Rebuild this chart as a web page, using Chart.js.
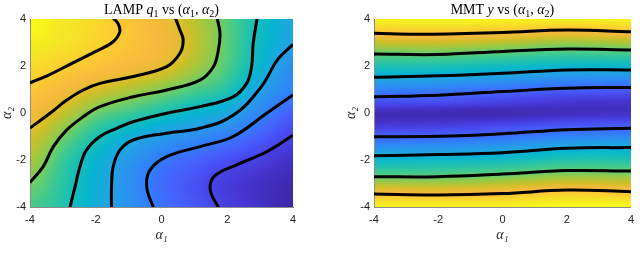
<!DOCTYPE html>
<html>
<head>
<meta charset="utf-8">
<script src="https://cdn.jsdelivr.net/npm/chart.js@4.4.0/dist/chart.umd.min.js"></script>
<style>
  html, body { margin: 0; padding: 0; background: #fff; }
  #wrap { position: relative; width: 640px; height: 262px; }
  .panel { position: absolute; top: 0; width: 320px; height: 262px; }
</style>
</head>
<body>
<div id="wrap">
  <div class="panel" style="left:0"><canvas id="lamp" width="320" height="262"></canvas></div>
  <div class="panel" style="left:320px"><canvas id="mmt" width="320" height="262"></canvas></div>
</div>
<script>
// tick labels (both axes, both panels)
const alphaTicks = [-4, -2, 0, 2, 4];

// LAMP q1 field, sampled on a grid: rows = alpha2 (4 .. -4), cols = alpha1 (-4 .. 4)
const lampAlpha1 = [-4, -3, -2, -1, 0, 1, 2, 3, 4];
const lampAlpha2 = [4, 3, 2, 1, 0, -1, -2, -3, -4];
const lampQ1 = [
  [8.2, 7.7, 7.3, 6.75, 6.23, 5.56, 4.75, 3.92, 3.15],
  [7.9, 7.6, 7.2, 6.76, 6.3, 5.68, 4.77, 3.83, 3.04],
  [7.4, 7.05, 6.71, 6.38, 6.06, 5.42, 4.65, 3.62, 2.45],
  [6.85, 6.38, 5.87, 5.47, 5.08, 4.64, 4.18, 2.97, 2.2],
  [6.33, 5.68, 4.92, 4.5, 4.07, 3.62, 3.16, 2.25, 1.55],
  [5.85, 4.97, 4.11, 3.44, 2.87, 2.47, 2.07, 1.54, 0.97],
  [5.41, 4.46, 3.6, 2.73, 2.02, 1.63, 1.24, 0.85, 0.39],
  [4.97, 4.27, 3.44, 2.52, 1.78, 1.27, 0.75, 0.35, 0.0],
  [4.6, 4.17, 3.38, 2.59, 1.87, 1.37, 0.87, 0.35, -0.1]
];
// value -> colormap position
const lampColorLevels = [-0.1, 1, 2, 3, 4, 5, 6, 7, 8.2];
const lampColorPos = [0, 0.1, 0.25, 0.37, 0.5, 0.66, 0.79, 0.88, 1];

// LAMP contour lines, [alpha1, alpha2]
const lampC1 = [[-4, 1.28], [-3.45, 1.6], [-2.74, 2.1], [-2.03, 2.6], [-1.48, 3.02], [-1.27, 3.45], [-1.32, 3.8], [-1.48, 4.05]];
const lampC2 = [[-4, -0.64], [-3.39, -0.01], [-2.88, 0.55], [-2.38, 0.98], [-1.87, 1.26], [-0.86, 1.55], [0.16, 1.97], [0.56, 2.54], [0.66, 3.1], [0.56, 3.53], [0.42, 4.05]];
const lampC3 = [[-4, -2.96], [-3.6, -2.28], [-3.29, -1.43], [-2.88, -0.72], [-2.38, -0.16], [-1.87, 0.27], [-0.86, 0.69], [0.16, 0.98], [1.17, 1.4], [1.58, 1.97], [1.73, 2.68], [1.78, 3.39], [1.69, 4.05]];
const lampC4 = [[-2.79, -4.05], [-2.63, -3.14], [-2.48, -2.28], [-2.28, -1.57], [-1.87, -1.0], [-1.36, -0.65], [-0.86, -0.37], [0.16, -0.01], [1.17, 0.27], [2.18, 0.69], [2.59, 1.26], [2.74, 1.97], [2.79, 2.97], [2.91, 4.05]];
const lampC5 = [[-1.52, -4.05], [-1.52, -3.14], [-1.47, -2.28], [-1.26, -1.57], [-0.86, -1.15], [0.16, -0.86], [1.17, -0.65], [2.18, -0.1], [3.0, 1.05], [3.55, 2.3], [4, 2.92]];
const lampC6 = [[-0.24, -4.05], [-0.45, -3.14], [-0.35, -2.43], [0.16, -1.86], [1.17, -1.43], [2.18, -1.0], [3.2, -0.01], [4, 0.77]];
const lampC7 = [[1.74, -4.05], [1.48, -3.25], [1.62, -2.68], [2.3, -2.2], [3.2, -1.65], [4, -0.95]];

// MMT y field: rows = alpha2 (4 .. -4, step 0.5), cols = alpha1 (-4 .. 4, step 2)
const mmtAlpha1 = [-4, -2, 0, 2, 4];
const mmtAlpha2 = [4, 3.5, 3, 2.5, 2, 1.5, 1, 0.5, 0, -0.5, -1, -1.5, -2, -2.5, -3, -3.5, -4];
const mmtY = [
  [4.6, 4.6, 4.6, 4.55, 4.6],
  [4.13, 4.17, 4.09, 3.96, 4.05],
  [3.56, 3.59, 3.47, 3.31, 3.41],
  [2.99, 3.01, 2.87, 2.75, 2.79],
  [2.48, 2.46, 2.33, 2.19, 2.2],
  [1.98, 1.9, 1.76, 1.58, 1.55],
  [1.37, 1.29, 1.1, 0.96, 0.92],
  [0.75, 0.72, 0.57, 0.42, 0.37],
  [0.2, 0.18, 0.15, 0.25, 0.3],
  [0.4, 0.45, 0.6, 0.77, 0.83],
  [0.99, 1.01, 1.15, 1.37, 1.43],
  [1.6, 1.65, 1.77, 2.0, 2.03],
  [2.2, 2.24, 2.34, 2.53, 2.53],
  [2.76, 2.78, 2.89, 3.06, 3.03],
  [3.39, 3.37, 3.48, 3.66, 3.6],
  [4.07, 4.01, 4.08, 4.25, 4.17],
  [4.6, 4.6, 4.6, 4.7, 4.7]
];
const mmtColorLevels = [0.1, 4.7];
const mmtColorPos = [0, 1];

// MMT contour lines, [alpha1, alpha2]
const mmtC1 = [[-4, 3.39], [-2.6, 3.35], [0, 3.43], [2, 3.53], [4, 3.46]];
const mmtC2 = [[-4, 2.51], [-2, 2.49], [0, 2.62], [2, 2.72], [4, 2.68]];
const mmtC3 = [[-4, 1.52], [-2, 1.58], [0, 1.69], [2, 1.83], [4, 1.83]];
const mmtC4 = [[-4, 0.69], [-2, 0.76], [0, 0.91], [2, 1.05], [4, 1.09]];
const mmtC5 = [[-4, -1.01], [-2, -0.99], [0, -0.88], [2, -0.71], [4, -0.65]];
const mmtC6 = [[-4, -1.82], [-2, -1.77], [0, -1.69], [2, -1.5], [4, -1.47]];
const mmtC7 = [[-4, -2.71], [-2, -2.71], [0, -2.6], [2, -2.45], [4, -2.47]];
const mmtC8 = [[-4, -3.45], [-2, -3.49], [0, -3.43], [2, -3.28], [4, -3.35]];

// parula colormap stops
const PARULA = [
  [0.2422, 0.1504, 0.6603], [0.2706, 0.2147, 0.8364], [0.2813, 0.3006, 0.9414],
  [0.2699, 0.3892, 0.9906], [0.1963, 0.4847, 0.9892], [0.1687, 0.5703, 0.9359],
  [0.1248, 0.6459, 0.8883], [0.0297, 0.7082, 0.8163], [0.0964, 0.7500, 0.7120],
  [0.2161, 0.7843, 0.5923], [0.3909, 0.8029, 0.4354], [0.6174, 0.7876, 0.2612],
  [0.8203, 0.7498, 0.1535], [0.9728, 0.7298, 0.2394], [0.9892, 0.8136, 0.1885],
  [0.9597, 0.9135, 0.1423], [0.9769, 0.9839, 0.0805]
];
const PARULA_POS = [0, 4, 8, 12, 16, 20, 24, 28, 32, 36, 40, 44, 48, 52, 56, 60, 63].map(v => v / 63);

const SERIF = "'Liberation Serif', 'DejaVu Serif', serif";
const SANS = "'Liberation Sans', Arial, sans-serif";
const INK = '#262626';

// piecewise linear lookup
function lerpTable(xs, ys, v) {
    if (v <= xs[0]) return ys[0];
    if (v >= xs[xs.length - 1]) return ys[ys.length - 1];
    let k = 0;
    while (v > xs[k + 1]) k++;
    return ys[k] + (ys[k + 1] - ys[k]) * (v - xs[k]) / (xs[k + 1] - xs[k]);
}

function parula(t) {
    t = Math.max(0, Math.min(1, t));
    let k = 0;
    while (k < PARULA_POS.length - 2 && t > PARULA_POS[k + 1]) k++;
    const u = (t - PARULA_POS[k]) / (PARULA_POS[k + 1] - PARULA_POS[k]);
    const a = PARULA[k], b = PARULA[k + 1];
    return [0, 1, 2].map(i => Math.round((a[i] + (b[i] - a[i]) * u) * 255));
}

// catmull-rom
function cr(p0, p1, p2, p3, t) {
    return p1 + 0.5 * t * (p2 - p0 + t * (2 * p0 - 5 * p1 + 4 * p2 - p3 + t * (3 * (p1 - p2) + p3 - p0)));
}

function gridIndex(arr, v) {
    const f = (v - arr[0]) / (arr[1] - arr[0]);
    return Math.max(0, Math.min(arr.length - 1, f));
}

function sampleGrid(xs, ys, z, vx, vy) {
    const nx = xs.length, ny = ys.length;
    const f = gridIndex(xs, vx), g = gridIndex(ys, vy);
    const i = Math.min(Math.floor(f), nx - 2), t = f - i;
    const j = Math.min(Math.floor(g), ny - 2), u = g - j;
    const cx = k => Math.max(0, Math.min(nx - 1, k));
    const cy = k => Math.max(0, Math.min(ny - 1, k));
    const row = r => {
        const R = z[cy(r)];
        return cr(R[cx(i - 1)], R[cx(i)], R[cx(i + 1)], R[cx(i + 2)], t);
    };
    return cr(row(j - 1), row(j), row(j + 1), row(j + 2), u);
}

// draws the colour field under everything, cell positions from the chart scales
function heatmap(g) {
    return {
        id: 'heatmap',
        beforeDraw(chart) {
            const {ctx, chartArea: a, scales: {x, y}} = chart;
            const w = Math.round(a.right - a.left), h = Math.round(a.bottom - a.top);
            const off = document.createElement('canvas');
            off.width = w; off.height = h;
            const octx = off.getContext('2d');
            const img = octx.createImageData(w, h);
            for (let j = 0; j < h; j++) {
                const vy = y.getValueForPixel(a.top + j + 0.5);
                for (let i = 0; i < w; i++) {
                    const vx = x.getValueForPixel(a.left + i + 0.5);
                    const v = sampleGrid(g.xs, g.ys, g.z, vx, vy);
                    const c = parula(lerpTable(g.levels, g.pos, v));
                    const p = (j * w + i) * 4;
                    img.data[p] = c[0]; img.data[p + 1] = c[1]; img.data[p + 2] = c[2]; img.data[p + 3] = 255;
                }
            }
            octx.putImageData(img, 0, 0);
            ctx.drawImage(off, a.left, a.top);
        }
    };
}

// title with italic math pieces
function mathTitle(parts) {
    return {
        id: 'mathTitle',
        afterDraw(chart) {
            const {ctx, chartArea: a} = chart;
            ctx.save();
            ctx.fillStyle = '#000';
            ctx.textBaseline = 'alphabetic';
            let total = 0;
            parts.forEach(p => { ctx.font = p.font; total += ctx.measureText(p.text).width; });
            let cx = (a.left + a.right) / 2 - total / 2;
            parts.forEach(p => {
                ctx.font = p.font;
                ctx.fillText(p.text, cx, 14 + (p.dy || 0));
                cx += ctx.measureText(p.text).width;
            });
            ctx.restore();
        }
    };
}

const rm = '14px ' + SERIF, it = 'italic 14px ' + SERIF, sub = '10px ' + SERIF;
const lampTitle = [
    {text: 'LAMP ', font: rm}, {text: 'q', font: it}, {text: '1', font: sub, dy: 3},
    {text: ' vs (', font: rm}, {text: 'α', font: it}, {text: '1', font: sub, dy: 3},
    {text: ', ', font: rm}, {text: 'α', font: it}, {text: '2', font: sub, dy: 3}, {text: ')', font: rm}
];
const mmtTitle = [
    {text: 'MMT ', font: rm}, {text: 'y', font: it},
    {text: ' vs (', font: rm}, {text: 'α', font: it}, {text: '1', font: sub, dy: 3},
    {text: ', ', font: rm}, {text: 'α', font: it}, {text: '2', font: sub, dy: 3}, {text: ')', font: rm}
];

function contourSet(pts) {
    return {
        data: pts.map(p => ({x: p[0], y: p[1]})),
        showLine: true,
        borderColor: '#000',
        borderWidth: 3,
        pointRadius: 0,
        tension: 0.4,
        clip: 0
    };
}

function axes(yWidth, yTitlePad) {
    const tickFont = {family: SANS, size: 11};
    const titleFont = {family: SERIF, size: 14, style: 'italic', lineHeight: 1};
    return {
        x: {
            type: 'linear', min: -4, max: 4,
            afterBuildTicks: s => { s.ticks = alphaTicks.map(v => ({value: v})); },
            afterFit: s => { s.height = 55; },
            grid: {display: false, drawTicks: false},
            border: {display: true, color: '#8c8c8c', width: 1},
            ticks: {padding: 6, color: INK, font: tickFont, maxRotation: 0, callback: v => String(v)},
            title: {display: true, text: 'α₁', color: INK, font: titleFont, padding: {top: 0, bottom: 20}}
        },
        y: {
            type: 'linear', min: -4, max: 4,
            afterBuildTicks: s => { s.ticks = alphaTicks.map(v => ({value: v})); },
            afterFit: s => { s.width = yWidth; },
            grid: {display: false, drawTicks: false},
            border: {display: true, color: '#8c8c8c', width: 1},
            ticks: {padding: 4, color: INK, font: tickFont, callback: v => String(v)},
            title: {display: true, text: 'α₂', color: INK, font: titleFont, padding: {top: yTitlePad, bottom: 0}}
        }
    };
}

function makeChart(id, contours, grid, title, yWidth, yTitlePad, rightPad) {
    return new Chart(document.getElementById(id), {
        type: 'scatter',
        data: {datasets: contours.map(contourSet)},
        options: {
            responsive: false,
            animation: false,
            layout: {padding: {top: 19, right: rightPad, left: 0, bottom: 0}},
            plugins: {legend: {display: false}, tooltip: {enabled: false}, title: {display: false}},
            scales: axes(yWidth, yTitlePad)
        },
        plugins: [heatmap(grid), mathTitle(title)]
    });
}

makeChart('lamp', [lampC1, lampC2, lampC3, lampC4, lampC5, lampC6, lampC7],
    {xs: lampAlpha1, ys: lampAlpha2, z: lampQ1, levels: lampColorLevels, pos: lampColorPos}, lampTitle, 30, 0, 27);
makeChart('mmt', [mmtC1, mmtC2, mmtC3, mmtC4, mmtC5, mmtC6, mmtC7, mmtC8],
    {xs: mmtAlpha1, ys: mmtAlpha2, z: mmtY, levels: mmtColorLevels, pos: mmtColorPos}, mmtTitle, 54, 24, 3);
</script>
</body>
</html>
